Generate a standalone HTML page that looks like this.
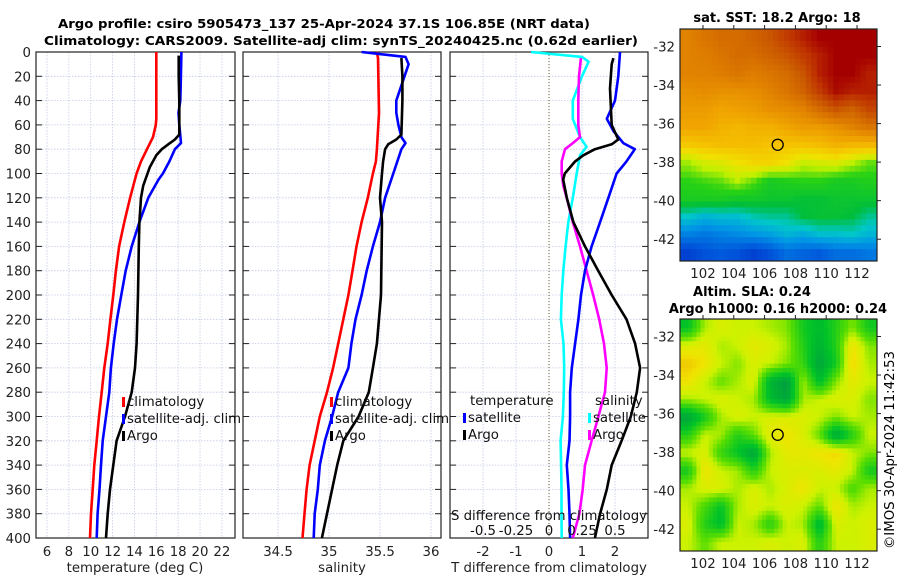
<!DOCTYPE html>
<html><head><meta charset="utf-8">
<style>
html,body{margin:0;padding:0;background:#fff;}
svg{display:block;font-family:"DejaVu Sans","Liberation Sans",sans-serif;}
</style></head>
<body>
<svg id="fig" width="900" height="580" viewBox="0 0 900 580" xmlns="http://www.w3.org/2000/svg">
<rect x="0" y="0" width="900" height="580" fill="#fff"/>
<text x="324" y="28" font-size="12.5" font-weight="bold" text-anchor="middle" textLength="532" lengthAdjust="spacingAndGlyphs">Argo profile: csiro 5905473_137 25-Apr-2024 37.1S 106.85E (NRT data)</text>
<text x="341" y="45" font-size="12.5" font-weight="bold" text-anchor="middle" textLength="594" lengthAdjust="spacingAndGlyphs">Climatology: CARS2009. Satellite-adj clim: synTS_20240425.nc (0.62d earlier)</text>
<g id="plots"></g>
<text x="777" y="22" font-size="13" font-weight="bold" text-anchor="middle">sat. SST: 18.2 Argo: 18</text>
<text x="752" y="296" font-size="13" font-weight="bold" text-anchor="middle">Altim. SLA: 0.24</text>
<text x="778" y="313" font-size="13" font-weight="bold" text-anchor="middle">Argo h1000: 0.16 h2000: 0.24</text>
<text transform="translate(894,450) rotate(-90)" font-size="13.3" text-anchor="middle">©IMOS 30-Apr-2024 11:42:53</text>
</svg>
<script>
// ---------- data ----------
const depthRange = [0, 400];
const depthTicks = [0,20,40,60,80,100,120,140,160,180,200,220,240,260,280,300,320,340,360,380,400];

const tClimDepth = [0,55,60,70,80,90,100,110,120,140,160,180,200,220,240,260,280,300,320,340,360,380,400];
const tClim      = [16.0,16.0,15.95,15.7,15.15,14.6,14.2,13.9,13.6,13.07,12.6,12.3,12.07,11.8,11.55,11.24,11.0,10.76,10.55,10.33,10.18,10.03,9.93];
const tSatDepth  = [0,20,40,50,60,75,80,90,100,105,120,140,160,180,200,220,240,260,280,300,320,340,360,380,400];
const tSat       = [18.3,18.25,18.2,18.03,18.1,18.26,17.7,17.2,16.6,16.2,15.27,14.45,13.75,13.2,12.8,12.4,12.1,11.85,11.7,11.4,11.1,10.94,10.8,10.63,10.55];
const tArgoDepth = [3,20,40,60,68,72,76,80,85,95,110,120,140,160,200,240,260,280,300,320,340,360,380,400];
const tArgo      = [18.05,18.05,18.1,18.1,18.1,17.7,17.1,16.5,16.0,15.4,14.8,14.6,14.45,14.4,14.33,14.2,14.05,13.75,13.14,12.37,12.07,11.76,11.55,11.4];

const sClimDepth = [0,5,50,80,90,100,120,140,160,180,200,220,240,260,280,300,320,340,360,380,400];
const sClim      = [35.47,35.48,35.49,35.47,35.46,35.43,35.38,35.32,35.27,35.23,35.19,35.14,35.09,35.04,34.98,34.91,34.86,34.81,34.78,34.76,34.74];
const sSatDepth  = [0,4,10,20,30,40,50,60,70,75,80,100,120,140,160,180,200,220,240,260,280,300,320,340,360,380,400];
const sSat       = [35.32,35.75,35.78,35.74,35.70,35.66,35.66,35.68,35.71,35.75,35.71,35.63,35.55,35.50,35.43,35.37,35.32,35.26,35.22,35.19,35.09,35.03,34.96,34.91,34.89,34.86,34.85];
const sArgoDepth = [5,20,40,68,72,76,80,90,100,120,140,200,240,260,280,300,320,340,360,380,400];
const sArgo      = [35.71,35.72,35.72,35.71,35.66,35.58,35.55,35.53,35.52,35.5,35.52,35.51,35.47,35.43,35.39,35.29,35.14,35.08,35.03,34.98,34.93];

const dDepthA = [0,4,8,20,40,55,70,78,85,100,120,140,160,180,200,220,240,260,280,300,320,340,360,380,400];
const dSSat   = [-0.136,0.25,0.30,0.25,0.18,0.18,0.235,0.285,0.235,0.21,0.18,0.146,0.126,0.108,0.096,0.09,0.11,0.115,0.112,0.105,0.088,0.092,0.095,0.095,0.096];
const dDepthB = [5,20,40,60,70,75,80,90,100,110,120,140,160,180,200,220,240,260,280,300,320,340,360,380,400];
const dSArgo  = [0.242,0.227,0.222,0.222,0.235,0.18,0.121,0.096,0.096,0.108,0.134,0.18,0.235,0.285,0.335,0.38,0.417,0.437,0.424,0.374,0.323,0.273,0.255,0.23,0.18];
const dDepthC = [0,20,40,55,65,75,80,90,100,120,140,160,180,200,220,240,260,280,300,320,340,360,380,400];
const dTSat   = [2.15,2.10,2.0,1.75,1.95,2.25,2.6,2.35,2.05,1.80,1.55,1.29,1.09,0.97,0.89,0.79,0.69,0.64,0.64,0.62,0.54,0.59,0.62,0.64];
const dDepthD = [5,10,30,60,72,76,80,85,90,100,105,120,130,140,160,180,200,220,240,260,280,300,320,340,360,380,400];
const dTArgo  = [1.95,1.9,1.85,1.9,2.1,1.9,1.39,1.04,0.79,0.48,0.43,0.54,0.64,0.74,1.09,1.49,1.9,2.35,2.61,2.76,2.66,2.48,2.2,1.9,1.75,1.55,1.39];

const tTicks = [6,8,10,12,14,16,18,20,22];
const sTicks = [34.5,35,35.5,36];
const dTTicks = [-2,-1,0,1,2];
const dSTicks = ["-0.5","-0.25","0","0.25","0.5"];

const sstGrid = [
[19.5,19.8,20,20,20.2,20.5,21,21.5,22,22,22,22],
[19.5,19.6,19.8,20,20,20.2,20.5,21,21.5,22,22,22],
[19.5,19.5,19.6,19.8,19.6,19.8,20,20.5,21.5,22,22,21.5],
[19.2,19.3,19.2,19.2,19.3,19.5,19.8,20.2,21,21.8,21.5,21.5],
[19,19,18.8,18.9,19,19.2,19.3,19.5,20,20.5,20.2,20.8],
[18.8,18.8,18.6,18.5,18.6,18.6,18.8,19,19,19.2,19.5,19.8],
[18.2,18.3,18.4,18.4,18.4,18.3,18.3,18.3,18.4,18.6,18.5,18.5],
[17.2,17.5,17.6,17.8,18,18,17.8,17.4,17.5,17.6,17.3,17.0],
[16.8,16.9,17,17.3,17,16.6,16.7,16.8,16.8,16.6,16.6,16.7],
[16.6,16.6,16.6,16.5,16.5,16.4,16.4,16.3,16.3,16.4,16.4,16.4],
[15.7,15.5,15.6,15.6,15.8,15.9,15.9,16.2,16.3,16.3,16.2,15.9],
[15,14.9,15,15.1,15.2,15.3,15.5,15.4,15.6,15.6,15.7,15.5],
[14.3,14.5,14.6,14.5,14.3,14.5,14.8,14.7,14.6,14.8,14.8,14.9]];
const slaGrid = [
[-0.4,0.3,0.5,0.4,0.4,0.3,0.2,-0.3,-0.5,-0.2,0.2,-0.3],
[0.5,0.6,0.3,0.4,0.6,0.5,0.3,-0.2,-0.6,-0.2,0.7,0.2],
[0.9,0.7,0.4,0.2,0.5,0.4,0.2,-0.1,-0.8,-0.3,0.8,0.3],
[0.7,0.4,0.1,0.3,0.5,-0.6,-0.9,0.3,-0.5,0.2,0.6,0.4],
[0.3,0.4,0.5,0.4,0.3,-0.5,-0.8,0.3,0.4,0.5,0.5,0.2],
[-0.8,-0.3,0.3,0.5,0.4,0.5,0.5,0.5,0.4,0.2,0.4,0.3],
[-0.2,0.4,0.3,-0.2,0.1,0.6,0.7,0.5,0.1,-0.8,-0.2,0.4],
[0.4,0.5,-0.1,-0.4,-0.8,0.3,0.6,0.6,0.7,0.8,0.4,0.2],
[-0.3,0.7,0.4,0.3,-0.2,0.4,0.5,0.5,0.5,0.6,0.4,-0.3],
[0.3,0.5,0.5,0.3,0.5,0.3,0.5,0.7,0.4,0.4,0.0,0.3],
[0.4,0.0,-0.4,0.3,0.5,0.4,0.5,0.4,0.1,0.7,0.3,0.4],
[0.5,-0.2,-0.5,0.4,0.3,-0.2,0.4,0.3,-0.6,0.5,0.4,0.5],
[0.4,0.1,0.4,0.4,0.4,0.5,0.4,0.5,-0.2,0.4,0.4,0.5]];
const latTicks = [-32,-34,-36,-38,-40,-42];
const lonTicks = [102,104,106,108,110,112];
const argoPos = [106.85, -37.1];

// ---------- drawing ----------
const NS = "http://www.w3.org/2000/svg";
const root = document.getElementById('plots');
const FS = 13.3;
function mk(tag, attrs, parent){
  const e = document.createElementNS(NS, tag);
  for (const k in attrs) e.setAttribute(k, attrs[k]);
  (parent||root).appendChild(e);
  return e;
}
const Y0 = 52, Y1 = 538;
const yD = d => Y0 + (d - depthRange[0]) / (depthRange[1]-depthRange[0]) * (Y1 - Y0);

function frame(x0, x1, name, gridXs){
  const g = mk('g', {});
  
  
  depthTicks.forEach(d => {
    const l = mk('line', {x1:x0, x2:x1, y1:yD(d), y2:yD(d), stroke:'#c4cbe6', 'stroke-width':0.8, 'stroke-dasharray':'1.5,1.5'}, g);
    
    
  });
  gridXs.forEach(x => {
    const l = mk('line', {x1:x, x2:x, y1:Y0, y2:Y1, stroke:'#c4cbe6', 'stroke-width':0.8, 'stroke-dasharray':'1.5,1.5'}, g);
    
    
  });
  depthTicks.forEach(d => {
    mk('line', {x1:x0, x2:x0+6, y1:yD(d), y2:yD(d), stroke:'#222', 'stroke-width':1}, g);
    mk('line', {x1:x1-6, x2:x1, y1:yD(d), y2:yD(d), stroke:'#222', 'stroke-width':1}, g);
  });
  const r = mk('rect', {x:x0, y:Y0, width:x1-x0, height:Y1-Y0, fill:'none', stroke:'#222', 'stroke-width':1.2}, g);
  
  
  return g;
}
function line(g, xs, ds, xf, color, name){
  const pts = xs.map((v,i) => xf(v).toFixed(1) + ',' + yD(ds[i]).toFixed(1)).join(' ');
  const p = mk('polyline', {points:pts, fill:'none', stroke:color, 'stroke-width':2.6, 'stroke-linejoin':'round'}, g);
  
  
}
function text(g, x, y, s, opts){
  const t = mk('text', Object.assign({x:x, y:y, 'font-size':FS, fill:'#222'}, opts||{}), g);
  t.textContent = s;
  return t;
}
function legendEntry(g, mx, y, color, label, name){
  const r = mk('rect', {x:mx, y:y-9, width:3, height:10, fill:color}, g);
  
  
  const t = text(g, mx+5, y, label, {fill:'#111'});
  
  
}

const yl = mk('g', {});


depthTicks.forEach(d => text(yl, 31, yD(d)+5, String(d), {'text-anchor':'end'}));

// Panel 1
const xT = t => 47 + (t - 6) * 10.93;
const p1 = frame(36, 235, 'temperature-panel', tTicks.map(xT));
line(p1, tClim, tClimDepth, xT, '#ff0000', 'temperature-climatology-line');
line(p1, tSat, tSatDepth, xT, '#0000ff', 'temperature-satellite-line');
line(p1, tArgo, tArgoDepth, xT, '#000000', 'temperature-argo-line');
tTicks.forEach(t => text(p1, xT(t), 556, String(t), {'text-anchor':'middle'}));
let lb = text(p1, 135, 572, 'temperature (deg C)', {'text-anchor':'middle'});


legendEntry(p1, 122, 406, '#ff0000', 'climatology', 'legend-climatology');
legendEntry(p1, 122, 423, '#0000ff', 'satellite-adj. clim', 'legend-satellite-adj-clim');
legendEntry(p1, 122, 440, '#000000', 'Argo', 'legend-argo');

// Panel 2
const xS = s => 329 + (s - 35) * 102;
const p2 = frame(243, 441, 'salinity-panel', sTicks.map(xS));
line(p2, sClim, sClimDepth, xS, '#ff0000', 'salinity-climatology-line');
line(p2, sSat, sSatDepth, xS, '#0000ff', 'salinity-satellite-line');
line(p2, sArgo, sArgoDepth, xS, '#000000', 'salinity-argo-line');
sTicks.forEach(s => text(p2, xS(s), 556, String(s), {'text-anchor':'middle'}));
lb = text(p2, 342, 572, 'salinity', {'text-anchor':'middle'});


legendEntry(p2, 330, 406, '#ff0000', 'climatology', 'legend-climatology-2');
legendEntry(p2, 330, 423, '#0000ff', 'satellite-adj. clim', 'legend-satellite-adj-clim-2');
legendEntry(p2, 330, 440, '#000000', 'Argo', 'legend-argo-2');

// Panel 3
const xDT = t => 549 + t * 33;
const xDS = s => 549 + s * 132;
const p3 = frame(450, 648, 'difference-panel', dTTicks.map(xDT));
const zl = mk('line', {x1:xDT(0), x2:xDT(0), y1:Y0, y2:Y1, stroke:'#6b5a2a', 'stroke-width':1, 'stroke-dasharray':'1,2'}, p3);


line(p3, dSSat, dDepthA, xDS, '#00ffff', 'salinity-diff-satellite-line');
line(p3, dSArgo, dDepthB, xDS, '#ff00ff', 'salinity-diff-argo-line');
line(p3, dTSat, dDepthC, xDT, '#0000ff', 'temperature-diff-satellite-line');
line(p3, dTArgo, dDepthD, xDT, '#000000', 'temperature-diff-argo-line');
dTTicks.forEach(t => text(p3, xDT(t), 556, String(t), {'text-anchor':'middle'}));
lb = text(p3, 549, 572, 'T difference from climatology', {'text-anchor':'middle'});


lb = text(p3, 549, 520, 'S difference from climatology', {'text-anchor':'middle', fill:'#111'});


dSTicks.forEach(s => text(p3, xDS(parseFloat(s)), 535, s, {'text-anchor':'middle', fill:'#111'}));
text(p3, 470, 405, 'temperature', {fill:'#111'});
legendEntry(p3, 463, 422, '#0000ff', 'satellite', 'legend-temperature-satellite');
legendEntry(p3, 463, 439, '#000000', 'Argo', 'legend-temperature-argo');
text(p3, 595, 405, 'salinity', {fill:'#111'});
legendEntry(p3, 588, 422, '#00ffff', 'satellite', 'legend-salinity-satellite');
legendEntry(p3, 588, 439, '#ff00ff', 'Argo', 'legend-salinity-argo');

// ---------- maps ----------
function interp(stops, v){
  if (v <= stops[0][0]) return stops[0][1];
  for (let i=1;i<stops.length;i++){
    if (v <= stops[i][0]){
      const f = (v - stops[i-1][0])/(stops[i][0]-stops[i-1][0]);
      const a = stops[i-1][1], b = stops[i][1];
      return [0,1,2].map(k => Math.round(a[k]+(b[k]-a[k])*f));
    }
  }
  return stops[stops.length-1][1];
}
const sstStops = [[14.0,[0,40,200]],[14.6,[0,90,220]],[15.2,[0,150,230]],[15.7,[0,200,200]],[16.2,[0,190,60]],[16.8,[40,210,20]],[17.3,[190,240,0]],[17.8,[240,225,0]],[18.3,[245,195,0]],[18.8,[240,165,0]],[19.5,[225,130,0]],[20.3,[205,95,0]],[21.2,[190,50,0]],[22,[165,0,0]]];
const slaStops = [[-1,[0,150,70]],[-0.4,[0,195,40]],[0.1,[90,222,0]],[0.4,[205,242,0]],[0.7,[240,228,0]],[1,[240,185,0]]];

const MX0 = 680, MX1 = 877;
const lonX = lon => 703 + (lon - 102) * 15.4;
function sample(grid, fy, fx){
  const rows = grid.length, cols = grid[0].length;
  const y = Math.max(0, Math.min(rows-1, fy)), x = Math.max(0, Math.min(cols-1, fx));
  const r0 = Math.floor(y), c0 = Math.floor(x);
  const r1 = Math.min(rows-1, r0+1), c1 = Math.min(cols-1, c0+1);
  const dy = y - r0, dx = x - c0;
  return grid[r0][c0]*(1-dy)*(1-dx) + grid[r0][c1]*(1-dy)*dx + grid[r1][c0]*dy*(1-dx) + grid[r1][c1]*dy*dx;
}
function drawMap(top, grid, stops, name, sub){
  const g = mk('g', {});
  
  
  const latY = lat => top + 17.5 + (-32 - lat) * 19.27;
  const bottom = top + 232;
  const rows = grid.length, cols = grid[0].length;
  const R = rows*sub, C = cols*sub;
  const cw = (MX1-MX0)/C, ch = (bottom-top)/R;
  for (let r=0;r<R;r++) for (let c=0;c<C;c++){
    const v = sample(grid, (r+0.5)/sub-0.5, (c+0.5)/sub-0.5);
    const col = interp(stops, v);
    const cell = mk('rect', {x:(MX0+c*cw).toFixed(2), y:(top+r*ch).toFixed(2), width:(cw+0.5).toFixed(2), height:(ch+0.5).toFixed(2), fill:'rgb('+col.join(',')+')'}, g);
    
    
  }
  const fr = mk('rect', {x:MX0, y:top, width:MX1-MX0, height:bottom-top, fill:'none', stroke:'#222', 'stroke-width':1.2}, g);
  
  
  latTicks.forEach(l => {
    mk('line', {x1:MX1, x2:MX1+4, y1:latY(l), y2:latY(l), stroke:'#222'}, g);
    text(g, 675, latY(l)+5, String(l), {'text-anchor':'end'});
  });
  lonTicks.forEach(l => {
    mk('line', {x1:lonX(l), x2:lonX(l), y1:top, y2:top-4, stroke:'#222'}, g);
    text(g, lonX(l), bottom+17, String(l), {'text-anchor':'middle'});
  });
  const c = mk('circle', {cx:lonX(argoPos[0]), cy:latY(argoPos[1]), r:5.5, fill:'none', stroke:'#000', 'stroke-width':1.3}, g);
  
  
}
drawMap(29, sstGrid, sstStops, 'sst-map', 3);
drawMap(319, slaGrid, slaStops, 'sla-map', 4);
</script>
</body></html>
